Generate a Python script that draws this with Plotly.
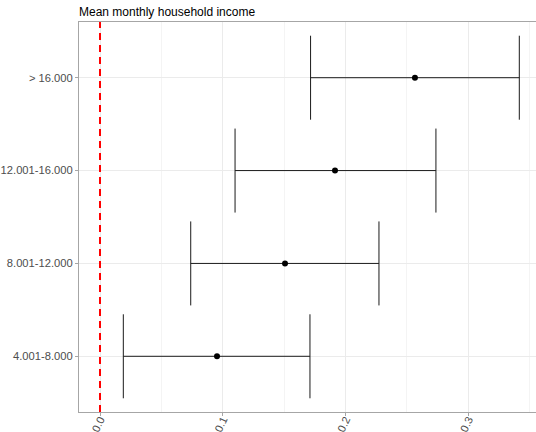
import plotly.graph_objects as go

categories = ["4.001-8.000", "8.001-12.000", "12.001-16.000", "> 16.000"]
estimate = [0.0953, 0.1507, 0.1914, 0.2565]
lower = [0.0190, 0.0739, 0.1100, 0.1715]
upper = [0.1710, 0.2272, 0.2736, 0.3415]
x_ticks = [0.0, 0.1, 0.2, 0.3]
x_tick_labels = ["0.0", "0.1", "0.2", "0.3"]
title_text = "Mean monthly household income"

err_plus = [u - e for u, e in zip(upper, estimate)]
err_minus = [e - l for e, l in zip(estimate, lower)]

fig = go.Figure()
fig.add_trace(go.Scatter(
    x=estimate, y=categories, mode="markers",
    marker=dict(color="black", size=6),
    error_x=dict(type="data", symmetric=False, array=err_plus, arrayminus=err_minus,
                 color="#1a1a1a", thickness=1, width=42),
    showlegend=False, hoverinfo="skip",
))
fig.add_vline(x=0, line=dict(color="#ff0000", width=2, dash="7px,5px"))

font = "Liberation Sans, Arial, sans-serif"
fig.update_layout(
    width=536, height=432,
    margin=dict(l=79, r=0, t=22, b=20),
    paper_bgcolor="white", plot_bgcolor="white",
    font=dict(family=font),
    title=dict(text=title_text, x=79/536, xanchor="left", y=1 - 12/432, yanchor="middle",
               font=dict(size=12, color="black", family=font)),
    xaxis=dict(
        range=[-0.0171, 0.3551], tickvals=x_ticks, ticktext=x_tick_labels,
        tickangle=-65, tickfont=dict(size=11, color="#4d4d4d", family=font),
        ticklabelstandoff=-7,
        showgrid=True, gridcolor="#ebebeb", gridwidth=1,
        minor=dict(dtick=0.05, tick0=0.05, showgrid=True, gridcolor="#f4f4f4", gridwidth=0.6),
        showline=True, linecolor="#a6a6a6", linewidth=1, mirror=True,
        ticks="outside", ticklen=3, tickcolor="#a6a6a6",
        zeroline=False, automargin=False,
    ),
    yaxis=dict(
        type="category", categoryorder="array", categoryarray=categories,
        range=[-0.6, 3.6], tickfont=dict(size=11.2, color="#4d4d4d", family=font),
        showgrid=True, gridcolor="#ebebeb", gridwidth=1,
        showline=True, linecolor="#a6a6a6", linewidth=1, mirror=False,
        ticks="outside", ticklen=3, tickcolor="#a6a6a6",
        zeroline=False, automargin=False,
    ),
)
fig.write_html("out.html")
